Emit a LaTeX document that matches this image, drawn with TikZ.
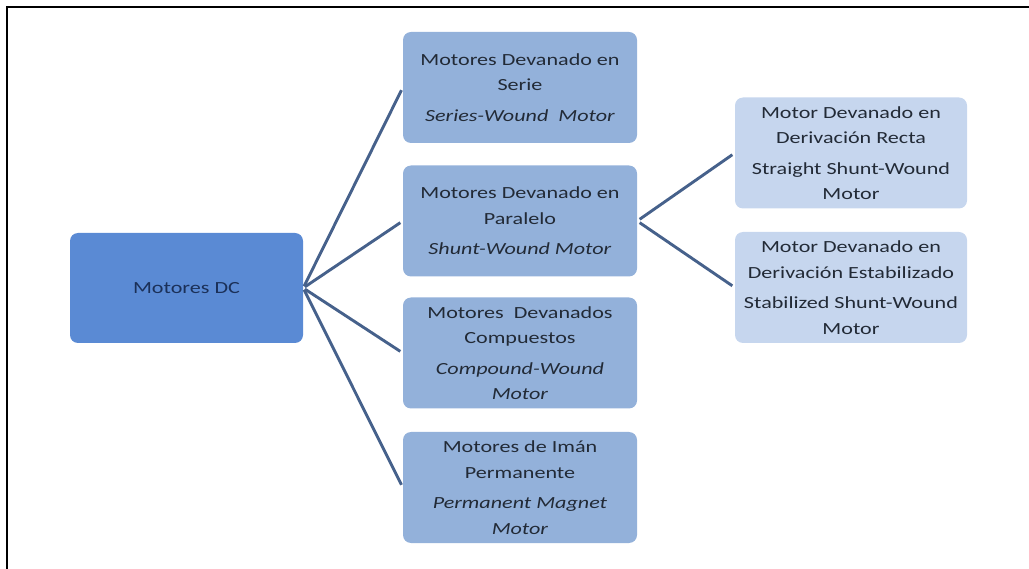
\documentclass[tikz,border=0pt]{standalone}
\usepackage{fontspec}
\setmainfont{Carlito}[FakeStretch=1.3]
\begin{document}
\begin{tikzpicture}[x=1pt,y=-1pt,
  every node/.style={font=\fontsize{17}{25.5}\selectfont, text=txt, align=center, rounded corners=8pt, inner sep=0pt},
  rootbox/.style={fill=rootblue, minimum width=233pt, minimum height=110pt, text=rootxt},
  midbox/.style={fill=midblue, minimum width=234pt, minimum height=111pt},
  leafbox/.style={fill=leafblue, minimum width=232pt, minimum height=111pt},
  link/.style={draw=linkcol, line width=2.9pt}]
\definecolor{rootblue}{HTML}{5A8AD4}
\definecolor{midblue}{HTML}{93B1DA}
\definecolor{leafblue}{HTML}{C6D6EE}
\definecolor{linkcol}{HTML}{46618B}
\definecolor{txt}{HTML}{222A36}
\definecolor{rootxt}{HTML}{1B3058}
\useasboundingbox (0,0) rectangle (1029,569);
% frame on top and left
\draw[line width=2.6pt, line cap=rect] (1029,7) -- (7,7) -- (7,569);
% boxes
\node[rootbox] (root) at (186.5,288) {Motores DC};
\node[midbox] (serie) at (520,87.5) {Motores Devanado en\\Serie\\[5pt]\textit{Series-Wound\ \ Motor}};
\node[midbox] (shunt) at (520,221) {Motores Devanado en\\Paralelo\\[5pt]\textit{Shunt-Wound Motor}};
\node[midbox] (comp) at (520,353) {Motores\ \ Devanados\\Compuestos\\[5pt]\textit{Compound-Wound}\\\textit{Motor}};
\node[midbox] (perm) at (520,487.5) {Motores de Imán\\Permanente\\[5pt]\textit{Permanent Magnet}\\\textit{Motor}};
\node[leafbox] (recta) at (851,153) {Motor Devanado en\\Derivación Recta\\[5pt]Straight Shunt-Wound\\Motor};
\node[leafbox] (estab) at (851,287.5) {Motor Devanado en\\Derivación Estabilizado\\[5pt]Stabilized Shunt-Wound\\Motor};
% connectors
\foreach \t in {serie,shunt,comp,perm}
  \draw[link, shorten <=2pt, shorten >=3pt] (root.east) -- (\t.west);
\foreach \t in {recta,estab}
  \draw[link, shorten <=3pt, shorten >=3pt] (shunt.east) -- (\t.west);
\end{tikzpicture}
\end{document}
